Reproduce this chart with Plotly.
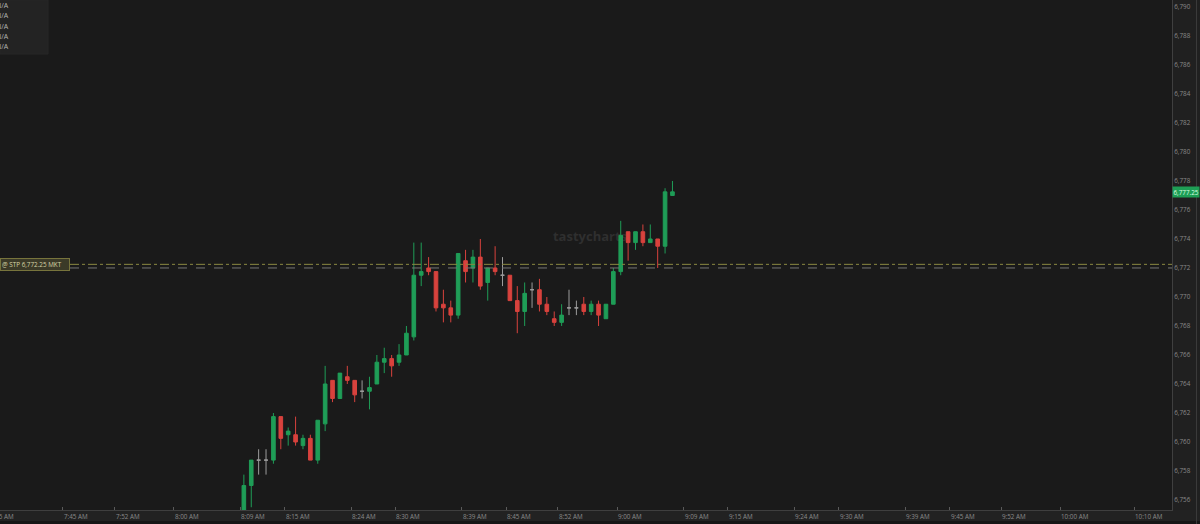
import pandas as pd
import plotly.graph_objects as go

# ---------------- data ----------------
session_date = "2025-10-08"
times = ["08:09", "08:10", "08:11", "08:12", "08:13", "08:14", "08:15", "08:16", "08:17", "08:18",
         "08:19", "08:20", "08:21", "08:22", "08:23", "08:24", "08:25", "08:26", "08:27", "08:28",
         "08:29", "08:30", "08:31", "08:32", "08:33", "08:34", "08:35", "08:36", "08:37", "08:38",
         "08:39", "08:40", "08:41", "08:42", "08:43", "08:44", "08:45", "08:46", "08:47", "08:48",
         "08:49", "08:50", "08:51", "08:52", "08:53", "08:54", "08:55", "08:56", "08:57", "08:58",
         "08:59", "09:00", "09:01", "09:02", "09:03", "09:04", "09:05", "09:06", "09:07"]
opens = [6755.00, 6757.00, 6758.75, 6758.75, 6758.75, 6761.75, 6760.50, 6760.50, 6759.75, 6760.25,
         6758.75, 6761.25, 6764.25, 6763.00, 6764.50, 6764.25, 6763.50, 6763.50, 6764.00, 6765.50,
         6765.75, 6765.50, 6766.00, 6767.25, 6771.50, 6772.00, 6771.75, 6769.50, 6769.25, 6768.75,
         6772.50, 6772.00, 6772.75, 6771.00, 6772.00, 6771.50, 6771.50, 6769.75, 6769.00, 6770.50,
         6770.50, 6769.50, 6768.50, 6768.25, 6769.25, 6769.25, 6769.50, 6769.00, 6769.50, 6768.50,
         6769.50, 6771.75, 6774.50, 6773.75, 6774.50, 6773.75, 6774.00, 6773.50, 6777.00]
highs = [6757.75, 6758.75, 6759.50, 6759.50, 6762.00, 6761.75, 6761.00, 6761.75, 6760.50, 6760.50,
         6761.50, 6765.25, 6764.25, 6764.75, 6765.25, 6764.25, 6764.25, 6764.50, 6766.00, 6766.50,
         6766.00, 6766.75, 6768.00, 6773.75, 6773.75, 6772.75, 6771.75, 6770.50, 6769.75, 6773.00,
         6773.25, 6773.25, 6774.00, 6772.00, 6773.50, 6772.75, 6771.50, 6770.75, 6771.00, 6771.00,
         6771.25, 6770.00, 6769.00, 6769.50, 6770.50, 6769.75, 6770.00, 6769.75, 6769.75, 6769.50,
         6772.00, 6775.25, 6774.50, 6774.50, 6775.00, 6775.00, 6774.00, 6777.50, 6778.00]
lows = [6754.75, 6755.50, 6757.75, 6757.75, 6758.50, 6759.50, 6759.75, 6759.75, 6759.50, 6758.75,
        6758.50, 6760.75, 6762.75, 6763.00, 6764.00, 6762.75, 6763.00, 6762.25, 6764.00, 6764.75,
        6764.50, 6765.25, 6766.00, 6767.00, 6770.75, 6771.50, 6769.00, 6768.25, 6768.25, 6768.50,
        6771.00, 6771.00, 6770.50, 6769.75, 6771.50, 6770.75, 6769.75, 6767.50, 6768.00, 6769.25,
        6769.00, 6768.75, 6768.00, 6768.00, 6768.75, 6768.75, 6768.75, 6768.75, 6768.00, 6768.50,
        6769.50, 6771.50, 6772.50, 6773.25, 6773.50, 6773.75, 6772.00, 6773.00, 6777.00]
closes = [6757.00, 6758.75, 6758.75, 6758.75, 6761.75, 6760.25, 6760.75, 6760.00, 6760.25, 6758.75,
          6761.50, 6764.00, 6763.00, 6764.75, 6764.25, 6763.25, 6763.50, 6763.75, 6765.50, 6765.75,
          6765.25, 6766.00, 6767.50, 6771.50, 6771.75, 6771.75, 6769.25, 6769.25, 6768.75, 6773.00,
          6771.75, 6772.75, 6770.75, 6772.00, 6771.75, 6771.50, 6769.75, 6769.00, 6770.25, 6770.50,
          6769.50, 6769.00, 6768.25, 6768.75, 6769.25, 6769.25, 6769.00, 6769.50, 6768.75, 6769.50,
          6771.75, 6774.25, 6773.75, 6774.50, 6773.75, 6774.00, 6773.50, 6777.25, 6777.25]

tick_times = ["07:35", "07:45", "07:52", "08:00", "08:09", "08:15", "08:24", "08:30", "08:39", "08:45",
              "08:52", "09:00", "09:09", "09:15", "09:24", "09:30", "09:39", "09:45", "09:52", "10:00",
              "10:10"]
tick_labels = ["7:35 AM", "7:45 AM", "7:52 AM", "8:00 AM", "8:09 AM", "8:15 AM", "8:24 AM", "8:30 AM",
               "8:39 AM", "8:45 AM", "8:52 AM", "9:00 AM", "9:09 AM", "9:15 AM", "9:24 AM", "9:30 AM",
               "9:39 AM", "9:45 AM", "9:52 AM", "10:00 AM", "10:10 AM"]
price_ticks = [6756, 6758, 6760, 6762, 6764, 6766, 6768, 6770, 6772, 6774, 6776, 6778, 6780,
               6782, 6784, 6786, 6788, 6790]
order_price = 6772.25
avg_price = 6772.00
last_price = 6777.25
order_text = "@ STP 6,772.25 MKT"
legend_rows = ["N/A", "N/A", "N/A", "N/A", "N/A"]
watermark = "tastycharts"

x_start = "07:36:30"
x_end = "10:15:06"
y_min, y_max = 6755.31, 6790.48

# ---------------- styling ----------------
W, H = 1200, 524
ML, MR, MT, MB = 0, 28, 0, 14
PW, PH = W - ML - MR, H - MT - MB
BG = "#1a1a1a"
STRIP = "#202020"
GREEN = "#1f9d57"
RED = "#d8423d"
DOJI = "#9c9c9c"
TXT = "#8a8a8a"
FONT = "Open Sans"


def px_x(p):
    return p / PW


def px_y(p):
    return (PH - p) / PH


def ts(t):
    return pd.Timestamp(f"{session_date} {t}")


X0, X1 = ts(x_start), ts(x_end)


def time_to_paper(t):
    return (ts(t) - X0) / (X1 - X0)


bar_x = [ts(t) + pd.Timedelta(seconds=30) for t in times]

groups = {"up": [], "down": [], "doji": []}
for i, (o, c) in enumerate(zip(opens, closes)):
    if c > o:
        groups["up"].append(i)
    elif c < o:
        groups["down"].append(i)
    else:
        groups["doji"].append(i)

fig = go.Figure()

# watermark on the base (hidden) subplot so it sits beneath the candles
fig.add_trace(go.Scatter(
    x=[px_x(590)], y=[px_y(238)], mode="text", text=[watermark],
    textfont=dict(family=FONT, size=13, color="#2f2f2f", weight="bold"),
    xaxis="x", yaxis="y", hoverinfo="skip", showlegend=False))

colors = {"up": GREEN, "down": RED, "doji": DOJI}
for name, idx in groups.items():
    col = colors[name]
    fig.add_trace(go.Candlestick(
        x=[bar_x[i] for i in idx],
        open=[opens[i] for i in idx],
        high=[highs[i] for i in idx],
        low=[lows[i] for i in idx],
        close=[closes[i] for i in idx],
        increasing=dict(line=dict(color=col, width=1), fillcolor=col),
        decreasing=dict(line=dict(color=col, width=1), fillcolor=col),
        whiskerwidth=0, xaxis="x2", yaxis="y2", showlegend=False, name=name))

shapes = [
    # right price strip
    dict(type="rect", xref="paper", yref="paper", x0=1, x1=px_x(W), y0=px_y(H), y1=1,
         fillcolor=STRIP, line=dict(width=0), layer="below"),
    # bottom time strip
    dict(type="rect", xref="paper", yref="paper", x0=0, x1=px_x(W), y0=px_y(521), y1=0,
         fillcolor="#222222", line=dict(width=0), layer="below"),
    dict(type="rect", xref="paper", yref="paper", x0=0, x1=px_x(W), y0=px_y(H), y1=px_y(521),
         fillcolor="#161616", line=dict(width=0), layer="below"),
    dict(type="line", xref="paper", yref="paper", x0=px_x(1196.5), x1=px_x(1196.5), y0=px_y(H), y1=1,
         line=dict(color="#3a3a3a", width=1)),
    # legend box top-left
    dict(type="rect", xref="paper", yref="paper", x0=0, x1=px_x(48), y0=px_y(54), y1=1,
         fillcolor="#232323", line=dict(color="#262626", width=1), layer="below"),
    # order line and average price line
    dict(type="line", xref="paper", yref="y2", x0=px_x(70), x1=1, y0=order_price, y1=order_price,
         line=dict(color="#8a8740", width=1, dash="dashdot")),
    dict(type="line", xref="paper", yref="y2", x0=px_x(70), x1=1, y0=avg_price, y1=avg_price,
         line=dict(color="#767676", width=1, dash="dash")),
]

annotations = []
for t, lab in zip(tick_times, tick_labels):
    annotations.append(dict(x=time_to_paper(t), y=0, xref="paper", yref="paper", xanchor="left",
                            yanchor="top", yshift=0, xshift=-1, text=lab, showarrow=False,
                            font=dict(family=FONT, size=6.3, color=TXT)))
for k, row in enumerate(legend_rows):
    annotations.append(dict(x=px_x(10.5), y=px_y(5.5 + 10.3 * k), xref="paper", yref="paper",
                            xanchor="right", yanchor="middle", text=row, showarrow=False,
                            font=dict(family=FONT, size=7, color="#b5b5b5")))
annotations.append(dict(x=0, y=order_price, xref="paper", yref="y2", xanchor="left", yanchor="middle",
                        text=order_text, showarrow=False, align="left", width=66, height=9,
                        bgcolor="#3b3a28", bordercolor="#77743c", borderwidth=1, borderpad=1,
                        font=dict(family=FONT, size=6.3, color="#d6d3a6")))
annotations.append(dict(x=1, y=last_price, xref="paper", yref="y2", xanchor="left", yanchor="middle",
                        xshift=0, text=f"{last_price:,.2f}", showarrow=False, bgcolor="#1e9e55",
                        borderpad=0.5, font=dict(family=FONT, size=6.3, color="#d9ffe2")))

fig.update_layout(
    width=W, height=H, autosize=False,
    margin=dict(l=ML, r=MR, t=MT, b=MB, pad=0),
    paper_bgcolor=BG, plot_bgcolor=BG,
    showlegend=False, boxmode="overlay", boxgap=0.3,
    font=dict(family=FONT, color=TXT),
    xaxis=dict(range=[0, 1], visible=False, fixedrange=True),
    yaxis=dict(range=[0, 1], visible=False, fixedrange=True),
    xaxis2=dict(overlaying="x", anchor="y2", type="date", range=[X0, X1],
                showgrid=False, zeroline=False, showline=True, linecolor="#3f3f3f", linewidth=1,
                tickvals=[ts(t) for t in tick_times], ticks="inside", ticklen=3, tickcolor="#5a5a5a",
                showticklabels=False, rangeslider=dict(visible=False)),
    yaxis2=dict(overlaying="y", anchor="x2", side="right", range=[y_min, y_max],
                showgrid=False, zeroline=False, showline=True, linecolor="#3f3f3f", linewidth=1,
                tickvals=price_ticks, ticktext=[f"{v:,}" for v in price_ticks], ticks="",
                ticklabelstandoff=0,
                tickfont=dict(family=FONT, size=6.3, color=TXT)),
    shapes=shapes, annotations=annotations,
)

fig.write_html(
    "out.html",
    config={"displayModeBar": False},
    post_script="document.body.style.margin='0';document.body.style.padding='0';"
                "document.body.style.overflow='hidden';document.body.style.background='#1a1a1a';",
)
